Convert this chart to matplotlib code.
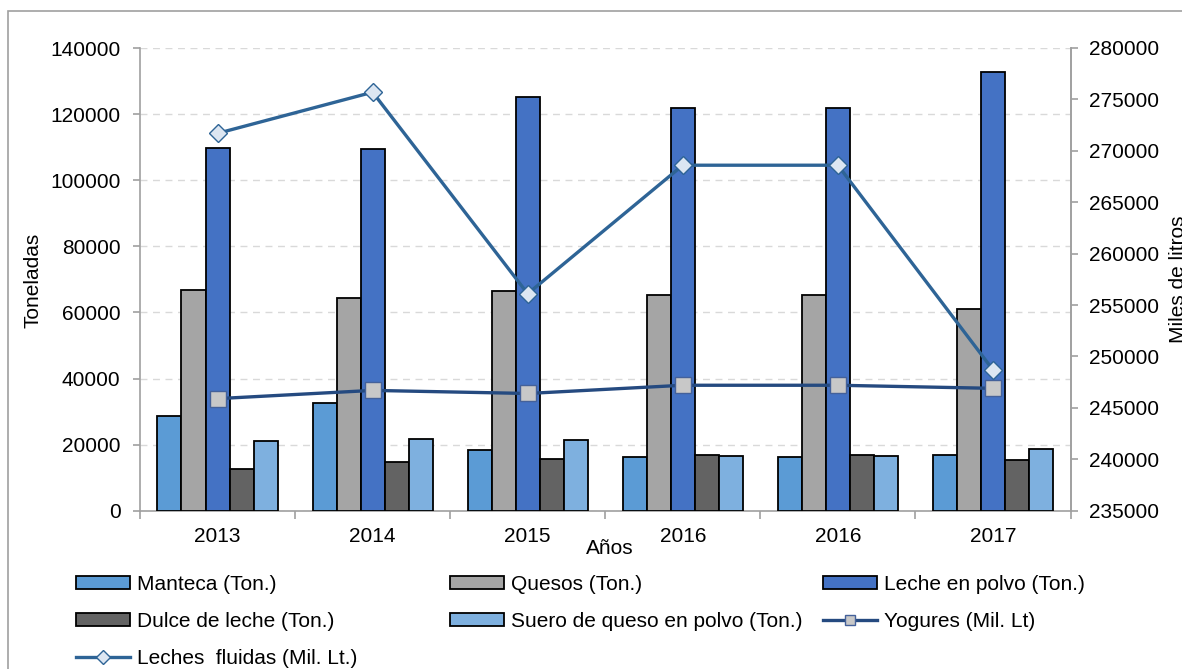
import matplotlib.pyplot as plt
import numpy as np
from matplotlib.patches import Rectangle
from matplotlib.ticker import FixedLocator, NullFormatter

plt.rcParams['font.family'] = ['Liberation Sans', 'DejaVu Sans']

years = ['2013', '2014', '2015', '2016', '2016', '2017']

# toneladas (eje izquierdo)
manteca = [28700, 32600, 18300, 16200, 16200, 16800]
quesos = [66900, 64500, 66600, 65400, 65400, 61100]
leche_polvo = [109700, 109400, 125100, 121800, 121800, 132600]
dulce = [12600, 14800, 15500, 16900, 16900, 15400]
suero = [21100, 21700, 21400, 16400, 16400, 18600]

# miles de litros (eje derecho)
yogures = [245900, 246700, 246400, 247200, 247200, 246900]
leches_fluidas = [271700, 275700, 256100, 268600, 268600, 248700]

fs = 15
fig = plt.figure(figsize=(11.82, 6.69), dpi=100)
fig.patches.append(Rectangle((8 / 1182, -0.1), 1.2, 1 - 11 / 669 + 0.1,
                             transform=fig.transFigure, fill=False,
                             edgecolor='#A0A0A0', lw=1.2, zorder=0))

ax = fig.add_axes([140 / 1182, 1 - 510.7 / 669, 930.5 / 1182, 462.7 / 669])
x = np.arange(len(years))
w = 0.155
series = [
    (manteca, '#5B9BD5', 'Manteca (Ton.)'),
    (quesos, '#A5A5A5', 'Quesos (Ton.)'),
    (leche_polvo, '#4472C4', 'Leche en polvo (Ton.)'),
    (dulce, '#636363', 'Dulce de leche (Ton.)'),
    (suero, '#7EB0DF', 'Suero de queso en polvo (Ton.)'),
]
bars = []
for i, (vals, col, lab) in enumerate(series):
    b = ax.bar(x + (i - 2) * w, vals, w, color=col, edgecolor='black',
               linewidth=1.3, label=lab, zorder=3)
    bars.append(b)

ax.set_xlim(-0.5, len(years) - 0.5)
ax.set_ylim(0, 140000)
ax.set_yticks(np.arange(0, 140001, 20000))
ax.yaxis.grid(True, linestyle=(0, (5, 4)), color='#D9D9D9', lw=1, zorder=0)
ax.set_axisbelow(True)
ax.set_xticks(x)
ax.set_xticklabels(years)
ax.xaxis.set_minor_locator(FixedLocator(np.arange(-0.5, len(years), 1)))
ax.xaxis.set_minor_formatter(NullFormatter())
ax.tick_params(axis='x', which='major', length=0, pad=12, labelsize=fs)
ax.tick_params(axis='x', which='minor', length=6, color='#A0A0A0', width=1.2)
ax.tick_params(axis='y', length=5, color='#A0A0A0', width=1.2, pad=9, labelsize=fs)
for s in ['left', 'bottom', 'right']:
    ax.spines[s].set_color('#A0A0A0')
    ax.spines[s].set_linewidth(1.2)
ax.spines['top'].set_visible(False)

ax2 = ax.twinx()
ax2.set_ylim(235000, 280000)
ax2.set_yticks(np.arange(235000, 280001, 5000))
ax2.tick_params(axis='y', length=5, color='#A0A0A0', width=1.2, pad=8, labelsize=fs)
for s in ['left', 'bottom', 'top']:
    ax2.spines[s].set_visible(False)
ax2.spines['right'].set_color('#A0A0A0')
ax2.spines['right'].set_linewidth(1.2)

l_yog, = ax2.plot(x, yogures, color='#254A80', lw=2.4, marker='s', ms=11,
                  mfc='#C8C8C8', mec='#44619A', mew=1, label='Yogures (Mil. Lt)',
                  zorder=4)
l_lf, = ax2.plot(x, leches_fluidas, color='#2E6496', lw=2.4, marker='D', ms=9.5,
                 mfc='#DCE6F2', mec='#2E6496', mew=1,
                 label='Leches  fluidas (Mil. Lt.)', zorder=5)

fig.text(33 / 1182, 1 - 280 / 669, 'Toneladas', rotation=90, ha='center',
         va='center', fontsize=fs)
fig.text(1178 / 1182, 1 - 279 / 669, 'Miles de litros', rotation=90, ha='center',
         va='center', fontsize=fs)
fig.text(610 / 1182, 1 - 549 / 669, 'Años', ha='center', va='center', fontsize=fs)

cols = [
    ([bars[0], bars[3], l_lf], 76),
    ([bars[1], bars[4]], 450),
    ([bars[2], l_yog], 823),
]
for hs, xpos in cols:
    leg = fig.legend(hs, [h.get_label() for h in hs], loc='upper left',
                     bbox_to_anchor=(xpos / 1182, 1 - 575 / 669), frameon=False,
                     borderpad=0, borderaxespad=0, fontsize=fs, handlelength=2.6,
                     handleheight=0.6, handletextpad=0.35, labelspacing=0.86)
    for lh in leg.legend_handles:
        if hasattr(lh, 'set_markersize'):
            lh.set_markersize(7.5)

fig.savefig('out.png', dpi=100)
